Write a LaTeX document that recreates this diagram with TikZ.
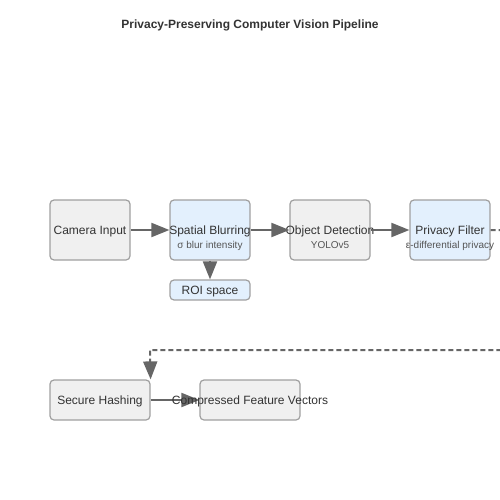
\documentclass[tikz,border=0pt]{standalone}
\usepackage{fontspec}
\setmainfont{Liberation Sans}
\usepackage{tikz}
\usetikzlibrary{arrows.meta}
\usetikzlibrary{positioning}
\definecolor{boxgray}{HTML}{F0F0F0}
\definecolor{boxblue}{HTML}{E3F0FD}
\definecolor{boxline}{HTML}{A0A0A0}
\definecolor{flowline}{HTML}{666666}
\definecolor{txt}{HTML}{333333}
\definecolor{subtxt}{HTML}{555555}
\newcommand*{\fixw}[1]{\makebox[0pt]{#1}}
\tikzset{
    stage/.style = {draw=boxline,line width=1.2pt,rounded corners=4pt,fill=boxgray,
        minimum width=80pt,minimum height=60pt,inner sep=0,text=txt,
        text depth=0pt,font=\fontsize{12}{14}\selectfont},
    privstage/.style = {stage,fill=boxblue},
    sub/.style = {text=subtxt,inner sep=0,text depth=0pt,font=\fontsize{10}{12}\selectfont},
    flow/.style = {draw=flowline,line width=2pt,-{Triangle[length=18pt,width=14pt]}},
    backflow/.style = {flow,dash pattern=on 5pt off 3pt}
}

\begin{document}
\begin{tikzpicture}[x=1pt,y=-1pt]
        \newcommand\hsep{120}
        \useasboundingbox (0,0) rectangle (500,500);
        % Title
        \node[text=txt,font=\bfseries\fontsize{12}{14}\selectfont] (title) at (250,25)
            {Privacy-Preserving Computer Vision Pipeline};
        % Stages
        \path (90,230) node[stage] (cam) {\fixw{Camera Input}}
            to +(1*\hsep,0) node[privstage] (blur) {\fixw{Spatial Blurring}}
            to +(2*\hsep,0) node[stage] (det) {\fixw{Object Detection}}
            to +(3*\hsep,0) node[privstage] (filt) {\fixw{Privacy Filter}}
        ;
        \node[privstage,minimum height=20pt] (roi) at (210,290) {\fixw{ROI space}};
        \node[stage,minimum width=100pt,minimum height=40pt] (hash) at (100,400) {\fixw{Secure Hashing}};
        \node[stage,minimum width=100pt,minimum height=40pt] (comp) at (250,400) {};
        % Subtitles
        \node[sub] (blursub) at ([yshift=-15pt]blur.center) {\fixw{σ blur intensity}};
        \node[sub] (detsub) at ([yshift=-15pt]det.center) {\fixw{YOLOv5}};
        \node[sub] (filtsub) at ([yshift=-15pt]filt.center) {\fixw{ε-differential privacy}};
        % Return path
        \coordinate (turn) at (520,230);
        \coordinate (back) at (520,350);
        \coordinate (drop) at (150,350);
        % Flow
        \foreach \src/\dest in {cam/blur,blur/det,det/filt,hash/comp}
            \draw[flow] (\src) to (\dest);
        \draw[flow] (blur) to (roi);
        \draw[backflow] (filt.east) -- (turn) -- (back) -- (drop) -- (hash.north east);
        \node[text=txt,text depth=0pt,font=\fontsize{12}{14}\selectfont] (complabel) at (comp.center)
            {\fixw{Compressed Feature Vectors}};
    \end{tikzpicture}
\end{document}
